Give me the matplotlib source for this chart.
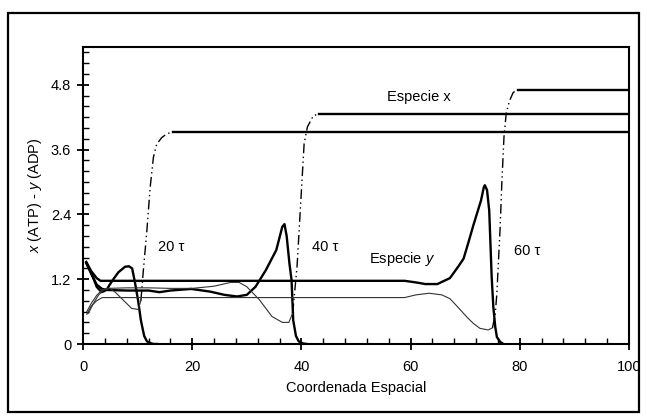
import matplotlib
matplotlib.use('Agg')
import matplotlib.pyplot as plt
from matplotlib.patches import Rectangle
from matplotlib.ticker import MultipleLocator, FixedLocator, FixedFormatter
import numpy as np

plt.rcParams['font.family'] = ['Liberation Sans', 'DejaVu Sans']
plt.rcParams['font.size'] = 10.5
plt.rcParams['mathtext.fontset'] = 'custom'
plt.rcParams['mathtext.it'] = 'Liberation Sans:italic'
plt.rcParams['mathtext.rm'] = 'Liberation Sans'

# especie y (ADP) a 20, 40 y 60 tau
y20_pos = [0.6, 1.6, 2.5, 3.4, 4.3, 4.9, 5.7, 6.5, 7.7, 8.4, 9.0, 9.5, 10.1, 10.6, 11.2, 11.7, 12.3, 12.9, 13.5]
y20_val = [1.50, 1.30, 1.06, 0.96, 1.00, 1.10, 1.22, 1.33, 1.43, 1.44, 1.40, 1.15, 0.80, 0.44, 0.15, 0.05, 0.02, 0.0, 0.0]

y40_pos = [0.6, 1.5, 2.5, 3.5, 4.5, 8, 12, 14, 16, 19.8, 23.3, 25.9, 28.2, 30, 31.6, 33.5, 35.4, 36.5, 36.9, 37.3,
           37.8, 38.2, 38.5, 39.0, 39.5, 40.3, 41.0]
y40_val = [1.50, 1.30, 1.10, 1.02, 1.00, 0.99, 0.99, 0.96, 0.99, 1.02, 0.97, 0.91, 0.88, 0.91, 1.06, 1.37, 1.74, 2.17,
           2.22, 2.00, 1.50, 1.18, 0.44, 0.15, 0.05, 0.01, 0.0]

y60_pos = [0.6, 1.5, 2.5, 3.2, 58.9, 61, 62.7, 64.9, 67.2, 68.7, 69.7, 70.5, 71.5, 72.9, 73.4, 73.6, 74.0, 74.4, 74.85,
           75.15, 75.5, 75.8, 76.4, 77.0]
y60_val = [1.52, 1.35, 1.22, 1.17, 1.17, 1.14, 1.11, 1.11, 1.22, 1.43, 1.58, 1.85, 2.20, 2.66, 2.90, 2.94, 2.85, 2.47,
           1.24, 0.69, 0.32, 0.13, 0.04, 0.0]

# especie x (ATP)
x20_pos = [1.0, 1.9, 2.8, 3.7, 4.9, 5.9, 7.4, 8.9, 10.1, 10.6, 11.0, 11.7, 12.3, 12.9, 13.5, 14.4, 15.3, 16.5, 100]
x20_val = [0.57, 0.75, 0.90, 1.00, 1.03, 0.96, 0.81, 0.66, 0.64, 0.80, 1.30, 2.10, 2.90, 3.46, 3.70, 3.82, 3.89, 3.93,
           3.93]
x20_front = (10.6, 16.5)

x40_pos = [0.7, 1.5, 2.5, 3.5, 4.5, 8, 12, 16, 20, 24, 27, 28.6, 30, 32.3, 34.6, 36.5, 37.7, 38.4, 39.2, 39.9, 40.5,
           41.1, 42.2, 43.3, 100]
x40_val = [0.60, 0.75, 0.90, 1.00, 1.03, 1.04, 1.04, 1.03, 1.03, 1.07, 1.14, 1.14, 1.06, 0.82, 0.51, 0.40, 0.40, 0.57,
           1.43, 2.66, 3.71, 4.02, 4.23, 4.26, 4.26]
x40_front = (38.4, 43.3)

x60_pos = [0.7, 1.5, 2.5, 3.5, 30, 58.9, 61, 63.4, 65.7, 67.2, 68.5, 70.3, 71.5, 72.7, 74.2, 75.0, 75.5, 75.8, 76.4,
           76.7, 77.1, 77.5, 78.1, 78.8, 79.7, 100]
x60_val = [0.55, 0.70, 0.80, 0.86, 0.86, 0.86, 0.91, 0.94, 0.91, 0.84, 0.70, 0.50, 0.38, 0.29, 0.26, 0.30, 0.55, 0.94,
           2.16, 2.96, 3.83, 4.26, 4.50, 4.66, 4.70, 4.70]
x60_front = (75.0, 79.7)

y_ticks = [0, 1.2, 2.4, 3.6, 4.8]
y_tick_labels = ['0', '1.2', '2.4', '3.6', '4.8']
x_ticks = [0, 20, 40, 60, 80, 100]

fig = plt.figure(figsize=(6.47, 4.2), dpi=100)
ax = fig.add_axes([83 / 647, 76 / 420, 546 / 647, 297 / 420])

# marco exterior
fig.patches.append(Rectangle((8 / 647, 8 / 420), 631 / 647, 399 / 420, transform=fig.transFigure,
                             fill=False, edgecolor='black', linewidth=1.6))

for pos, val in [(y20_pos, y20_val), (y40_pos, y40_val), (y60_pos, y60_val)]:
    ax.plot(pos, val, color='black', lw=1.7, solid_joinstyle='round')

for pos, val, (a, b) in [(x20_pos, x20_val, x20_front), (x40_pos, x40_val, x40_front),
                         (x60_pos, x60_val, x60_front)]:
    pos = np.array(pos)
    val = np.array(val)
    m1 = pos <= a
    m2 = (pos >= a) & (pos <= b)
    m3 = pos >= b
    ax.plot(pos[m1], val[m1], color='#333333', lw=0.8)
    ax.plot(pos[m2], val[m2], color='black', lw=1.0, dashes=(7, 2.5, 1, 2.5, 1, 2.5))
    ax.plot(pos[m3], val[m3], color='black', lw=1.7)

ax.text(61.5, 4.58, 'Especie x', ha='center', va='center')
ax.text(58.5, 1.57, 'Especie $\\it{y}$', ha='center', va='center')
ax.text(16.1, 1.80, '20 τ', ha='center', va='center')
ax.text(44.3, 1.80, '40 τ', ha='center', va='center')
ax.text(81.3, 1.73, '60 τ', ha='center', va='center')

ax.set_xlim(0, 100)
ax.set_ylim(0, 5.5)
ax.xaxis.set_major_locator(FixedLocator(x_ticks))
ax.xaxis.set_minor_locator(MultipleLocator(4))
ax.yaxis.set_major_locator(FixedLocator(y_ticks))
ax.yaxis.set_major_formatter(FixedFormatter(y_tick_labels))
ax.yaxis.set_minor_locator(MultipleLocator(0.2))
ax.tick_params(which='major', direction='inout', length=9, width=1.3, labelsize=10.5)
ax.tick_params(axis='x', which='major', pad=7)
ax.tick_params(axis='y', which='major', pad=4)
ax.tick_params(which='minor', direction='in', length=4, width=1.0)
for s in ax.spines.values():
    s.set_linewidth(1.5)

ax.set_xlabel('Coordenada Espacial', labelpad=5)
ax.set_ylabel('$\\it{x}$ (ATP) - $\\it{y}$ (ADP)', labelpad=5)

fig.savefig('out.png', dpi=100)
